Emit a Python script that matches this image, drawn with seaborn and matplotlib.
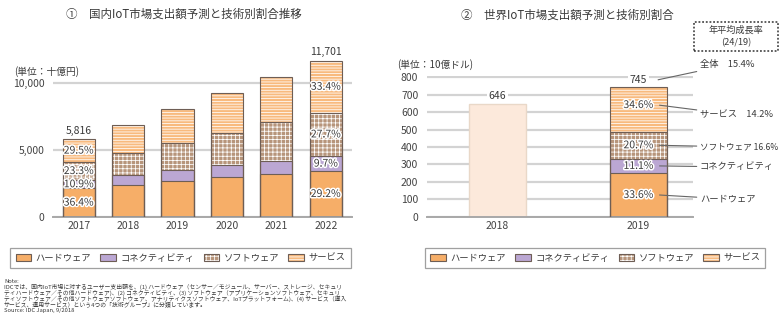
import matplotlib
matplotlib.use("Agg")
import matplotlib.pyplot as plt
from matplotlib.patches import Rectangle, Patch
import matplotlib.patheffects as pe
import seaborn as sns
import pandas as pd
import numpy as np

# ---------------- data ----------------
jp_years = ["2017", "2018", "2019", "2020", "2021", "2022"]
jp_hw = [2117, 2352, 2677, 2952, 3202, 3417]
jp_conn = [634, 748, 800, 950, 1000, 1135]
jp_sw = [1355, 1652, 2025, 2350, 2875, 3241]
jp_svc = [1710, 2128, 2575, 3000, 3423, 3908]
jp_total_labels = {"2017": "5,816", "2022": "11,701"}
jp_pct_2017 = ["36.4%", "10.9%", "23.3%", "29.5%"]
jp_pct_2022 = ["29.2%", "9.7%", "27.7%", "33.4%"]
jp_yticks = [0, 5000, 10000]
jp_yticklabels = ["0", "5,000", "10,000"]

ww_years = ["2018", "2019"]
ww_total_2018 = 646
ww_2019 = [250, 83, 154, 258]  # hw, conn, sw, svc
ww_total_2019 = 745
ww_pct_2019 = ["33.6%", "11.1%", "20.7%", "34.6%"]
ww_cagr_names = ["ハードウェア", "コネクティビティ", "ソフトウェア", "サービス"]
ww_cagr_vals = ["", "", "16.6%", "14.2%"]
ww_cagr_total = "15.4%"

cats = ["ハードウェア", "コネクティビティ", "ソフトウェア", "サービス"]
colors = ["#F6AE68", "#BBA7D3", "#B7957B", "#F8BA7E"]
hatches = [None, None, "++++", "------"]
edge_dark = "#6E5E55"
text_col = "#3A3A3A"

note_lines = [
    "Note:",
    "IDCでは、国内IoT市場に対するユーザー支出額を、(1) ハードウェア（センサー／モジュール、サーバー、ストレージ、セキュリ",
    "ティハードウェア／その他ハードウェア)、(2) コネクティビティ、(3) ソフトウェア（アプリケーションソフトウェア、セキュリ",
    "ティソフトウェア／その他ソフトウェアソフトウェア、アナリティクスソフトウェア、IoTプラットフォーム)、(4) サービス（導入",
    "サービス、運用サービス）という4つの「技術グループ」に分類しています。",
    "Source: IDC Japan, 9/2018",
]

# ---------------- style ----------------
sns.set_style("white")
plt.rcParams["font.family"] = ["Noto Sans CJK JP", "DejaVu Sans"]
plt.rcParams["hatch.linewidth"] = 0.55

W, H = 780, 326
fig = plt.figure(figsize=(W / 100, H / 100), dpi=100)


def fx(px):
    return px / W


def fy(py):
    return 1 - py / H


def style_axes(ax):
    ax.set_axisbelow(True)
    ax.yaxis.grid(True, color="#D3D3D3", lw=1.6)
    ax.xaxis.grid(False)
    for s in ["left", "top", "right"]:
        ax.spines[s].set_visible(False)
    ax.spines["bottom"].set_color("#A8A8A8")
    ax.spines["bottom"].set_linewidth(1.4)
    ax.tick_params(length=0, labelsize=7.5, colors="#444444")
    ax.set_xlabel("")
    ax.set_ylabel("")


def stacked(ax, df, xcol, order, width):
    """Draw stacked bars by overlaying cumulative sums (seaborn)."""
    start = len(ax.patches)
    cum_cols = ["c_hw", "c_conn", "c_sw", "c_svc"]
    for i in [3, 2, 1, 0]:
        sns.barplot(data=df, x=xcol, y=cum_cols[i], order=order, ax=ax,
                    color=colors[i], width=width, hatch=hatches[i],
                    edgecolor="white", linewidth=0, saturation=1,
                    errorbar=None)
    for p in list(ax.patches[start:]):
        ax.add_patch(Rectangle(p.get_xy(), p.get_width(), p.get_height(),
                               fill=False, ec=edge_dark, lw=0.8, zorder=3))


def pct_text(ax, x, y, s):
    ax.text(x, y, s, ha="center", va="center", fontsize=7.5, color=text_col,
            zorder=5,
            path_effects=[pe.withStroke(linewidth=2.2, foreground="white")])


# ---------------- left chart ----------------
ax1 = fig.add_axes([fx(53), fy(216.7), fx(299), 160 / H])
df1 = pd.DataFrame({"year": jp_years, "hw": jp_hw, "conn": jp_conn,
                    "sw": jp_sw, "svc": jp_svc})
df1["c_hw"] = df1["hw"]
df1["c_conn"] = df1["c_hw"] + df1["conn"]
df1["c_sw"] = df1["c_conn"] + df1["sw"]
df1["c_svc"] = df1["c_sw"] + df1["svc"]
stacked(ax1, df1, "year", jp_years, 0.65)
style_axes(ax1)
ax1.set_ylim(0, 12000)
ax1.set_xlim(-0.52, 5.53)
ax1.set_yticks(jp_yticks)
ax1.set_yticklabels(jp_yticklabels)
ax1.tick_params(axis="y", pad=6)
ax1.tick_params(axis="x", pad=3)

for yr, lab in jp_total_labels.items():
    i = jp_years.index(yr)
    ax1.text(i, df1.loc[i, "c_svc"] + 250, lab, ha="center", va="bottom",
             fontsize=7.5, color=text_col)
for yr, pcts in [("2017", jp_pct_2017), ("2022", jp_pct_2022)]:
    i = jp_years.index(yr)
    lows = [0, df1.loc[i, "c_hw"], df1.loc[i, "c_conn"], df1.loc[i, "c_sw"]]
    highs = [df1.loc[i, "c_hw"], df1.loc[i, "c_conn"], df1.loc[i, "c_sw"],
             df1.loc[i, "c_svc"]]
    for k in range(4):
        pct_text(ax1, i, (lows[k] + highs[k]) / 2, pcts[k])

fig.text(fx(14), fy(71.5), "(単位：十億円)", fontsize=7, color=text_col,
         ha="left", va="center")
fig.text(fx(183.5), fy(14), "①　国内IoT市場支出額予測と技術別割合推移",
         fontsize=8.3, color=text_col, ha="center", va="center")

# ---------------- right chart ----------------
ax2 = fig.add_axes([fx(426.7), fy(216.7), fx(266.3), 805 * 0.17425 / H])
sns.barplot(x=[ww_years[0]], y=[ww_total_2018], order=ww_years, ax=ax2,
            color="#FCE9DB", edgecolor="#E9D8C8", linewidth=1.0, width=0.405,
            saturation=1, errorbar=None)
cum = np.cumsum(ww_2019)
df2 = pd.DataFrame({"year": [ww_years[1]], "c_hw": [cum[0]],
                    "c_conn": [cum[1]], "c_sw": [cum[2]], "c_svc": [cum[3]]})
stacked(ax2, df2, "year", ww_years, 0.405)
style_axes(ax2)
ax2.set_ylim(0, 805)
ax2.set_xlim(-0.5, 1.387)
ax2.set_yticks(range(0, 801, 100))
ax2.tick_params(axis="y", pad=6)
ax2.tick_params(axis="x", pad=3)

box = dict(boxstyle="square,pad=0.15", fc="white", ec="none")
ax2.text(0, ww_total_2018 + 18, str(ww_total_2018), ha="center",
         va="bottom", fontsize=7.5, color=text_col, bbox=box, zorder=4)
ax2.text(1, ww_total_2019 + 12, str(ww_total_2019), ha="center",
         va="bottom", fontsize=7.5, color=text_col, bbox=box, zorder=4)

lows = [0] + list(cum[:-1])
ann_y = [199, 167, 147, 115]
seps = ["", "", " ", "　"]
for k in range(4):
    yc = (lows[k] + cum[k]) / 2
    if k == 3:
        yc += 25
    pct_text(ax2, 1, yc, ww_pct_2019[k])
    lab = ww_cagr_names[k] + (seps[k] + ww_cagr_vals[k] if ww_cagr_vals[k] else "")
    ax2.annotate(lab, xy=(1.14, yc), xycoords="data",
                 xytext=(fx(700), fy(ann_y[k])), textcoords="figure fraction",
                 ha="left", va="center", fontsize=6.2 if k == 2 else 6.7,
                 color=text_col, annotation_clip=False,
                 arrowprops=dict(arrowstyle="-", color="#666666", lw=0.8,
                                 shrinkA=0, shrinkB=1))
ax2.annotate("全体　" + ww_cagr_total, xy=(1.13, 784), xycoords="data",
             xytext=(fx(700), fy(65)), textcoords="figure fraction",
             ha="left", va="center", fontsize=6.7, color=text_col,
             annotation_clip=False,
             arrowprops=dict(arrowstyle="-", color="#666666", lw=0.8,
                             shrinkA=0, shrinkB=1))

fig.text(fx(397), fy(65), "(単位：10億ドル)", fontsize=7, color=text_col,
         ha="left", va="center")
fig.text(fx(567.5), fy(15), "②　世界IoT市場支出額予測と技術別割合",
         fontsize=8.3, color=text_col, ha="center", va="center")

# dotted CAGR box
fig.patches.append(Rectangle((fx(694), fy(51)), fx(84), 29 / H, fill=False,
                             ec="#333333", lw=1.1, ls=(0, (1.2, 1.2)),
                             transform=fig.transFigure, figure=fig))
fig.text(fx(736), fy(30), "年平均成長率", fontsize=6.6, color=text_col,
         ha="center", va="center")
fig.text(fx(736), fy(43), "(24/19)", fontsize=6.6, color=text_col,
         ha="center", va="center")

# ---------------- legends ----------------
handles = []
for i in range(4):
    fillp = Patch(facecolor=colors[i], edgecolor="white", hatch=hatches[i],
                  lw=0)
    outl = Patch(facecolor="none", edgecolor=edge_dark, lw=0.8)
    handles.append((fillp, outl))

for (x0, x1) in [(14, 347), (425.7, 765)]:
    leg = fig.legend(handles, cats, loc="center", ncol=4,
                     bbox_to_anchor=(fx((x0 + x1) / 2), fy(258)),
                     fontsize=6.7, frameon=True, fancybox=False,
                     handlelength=1.7, handleheight=0.8, handletextpad=0.45,
                     columnspacing=1.0, borderpad=0.55, borderaxespad=0)
    leg.get_frame().set_edgecolor("#888888")
    leg.get_frame().set_linewidth(0.9)
    for t in leg.get_texts():
        t.set_color(text_col)

# ---------------- note ----------------
fig.text(fx(4), fy(279), "\n".join(note_lines), fontsize=4.2,
         color=text_col, ha="left", va="top", linespacing=0.97)

fig.savefig("out.png", dpi=100)
